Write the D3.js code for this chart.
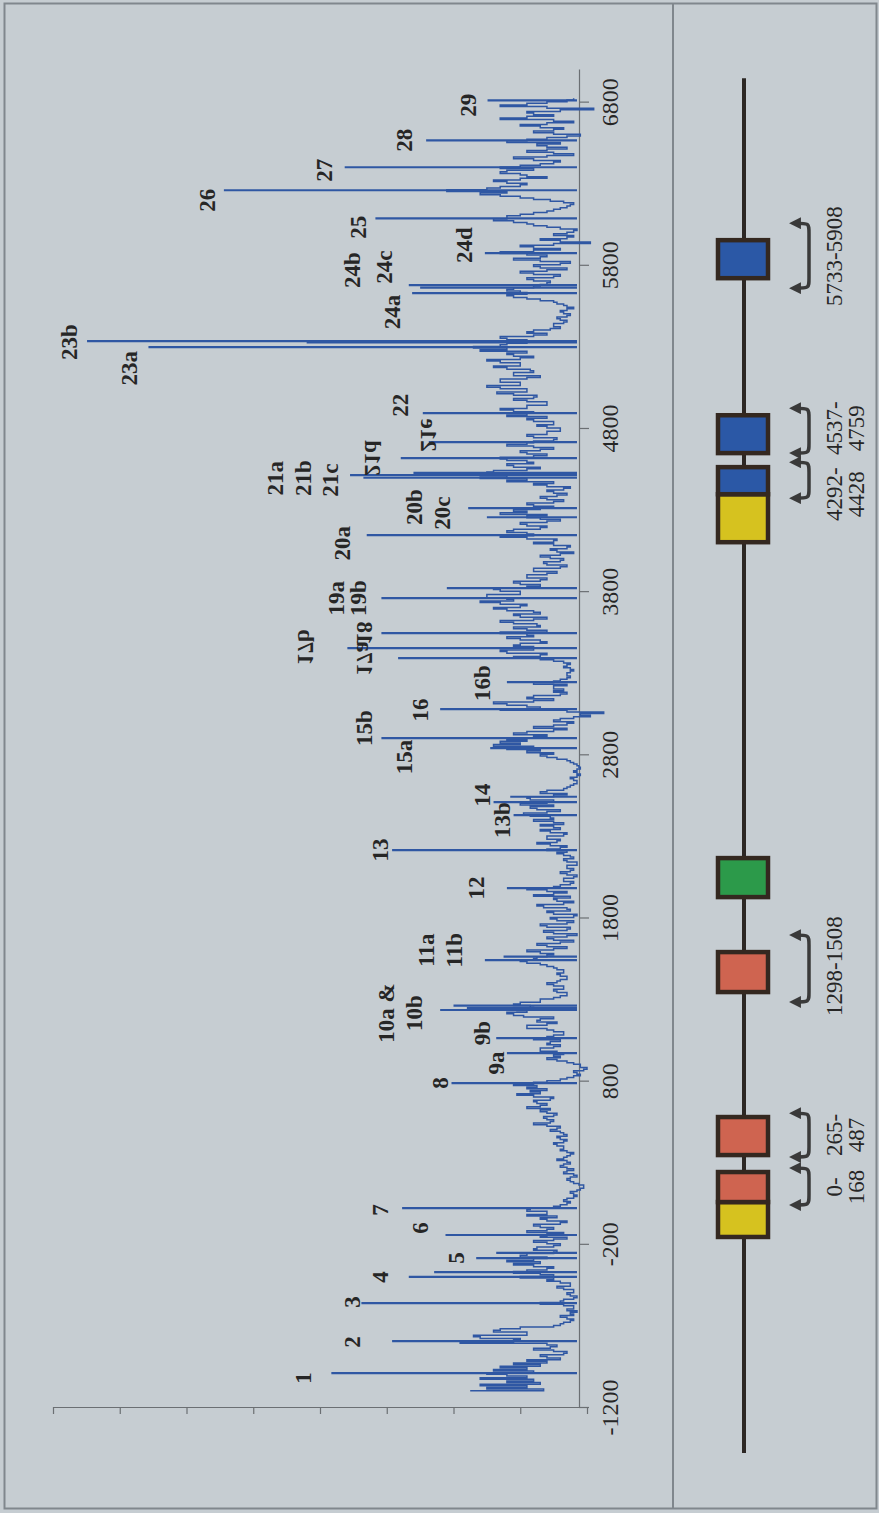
<!DOCTYPE html>
<html>
<head>
<meta charset="utf-8">
<script src="https://cdn.jsdelivr.net/npm/d3@7"></script>
<style>
  html, body { margin: 0; padding: 0; background: #c6cdd2; }
  svg { display: block; }
</style>
</head>
<body>
<svg id="chart" width="879" height="1513"></svg>
<script>
// ---------- data ----------
// position axis tick labels (bp)
const axisTicks = [-1200, -200, 800, 1800, 2800, 3800, 4800, 5800, 6800];

// background signal, one reading every 10 bp starting at -1100 (one row = 100 bp)
const traceStart = -1100;
const traceStep = 10;
const traceValues = [
  1.75, 0.65, 1.5, 0.9, 1.6, 0.7, 1.2, 0.8, 1.6, 0.9,        // -1100
  1.2, 1.5, 0.8, 1.4, 0.9, 1.3, 0.7, 1.1, 0.6, 0.9,          // -1000
  0.4, 0.6, 0.7, 0.35, 0.3, 0.5, 0.8, 0.55, 0.45, 0.6,       // -900
  1.9, 1.1, 1.0, 1.6, 1.7, 0.9, 0.9, 1.4, 1.3, 1.0,          // -800
  0.5, 0.4, 0.35, 0.25, 0.2, 0.3, 0.4, 0.2, 0.25, 0.15,      // -700
  0.3, 0.2, 0.2, 0.35, 0.7, 0.4, 0.35, 0.2, 0.15, 0.25,      // -600
  0.3, 0.2, 0.2, 0.35, 0.45, 0.25, 0.25, 0.4, 0.6, 0.5,      // -500
  1.0, 0.5, 0.7, 1.1, 0.9, 0.6, 0.5, 0.8, 1.1, 0.7,          // -400
  1.2, 0.8, 0.6, 1.0, 0.9, 0.5, 0.45, 0.8, 0.75, 0.5,        // -300
  0.4, 0.6, 0.8, 0.5, 0.3, 0.7, 0.6, 0.35, 0.9, 0.6,         // -200
  0.5, 0.7, 0.8, 0.4, 0.3, 0.6, 0.7, 0.45, 0.9, 0.6,         // -100
  0.6, 0.9, 0.85, 0.5, 0.4, 0.3, 0.25, 0.35, 0.3, 0.2,       // 0
  0.15, 0.2, 0.25, 0.15, 0.1, 0.05, 0.05, 0.12, 0.2, 0.25,   // 100
  0.3, 0.25, 0.15, 0.2, 0.35, 0.3, 0.2, 0.3, 0.4, 0.35,      // 200
  0.25, 0.3, 0.45, 0.35, 0.3, 0.25, 0.2, 0.3, 0.4, 0.35,     // 300
  0.35, 0.45, 0.5, 0.35, 0.3, 0.4, 0.45, 0.3, 0.35, 0.4,     // 400
  0.55, 0.45, 0.4, 0.6, 0.8, 0.55, 0.5, 0.6, 0.65, 0.5,      // 500
  0.45, 0.6, 0.7, 0.55, 0.9, 0.7, 0.6, 0.75, 0.8, 0.55,      // 600
  0.5, 0.8, 1.05, 0.7, 0.85, 0.6, 0.9, 0.75, 1.1, 0.8,       // 700
  0.6, 0.4, 0.3, 0.2, 0.1, 0.15, 0.2, 0.05, 0.0, 0.1,        // 800
  0.1, 0.2, 0.3, 0.45, 0.6, 0.4, 0.5, 0.35, 0.45, 0.7,       // 900
  0.7, 0.5, 0.4, 0.6, 0.55, 0.4, 0.8, 0.6, 0.5, 0.35,        // 1000
  0.35, 0.5, 0.6, 0.9, 0.9, 0.6, 0.45, 0.75, 0.7, 0.5,       // 1100
  0.95, 1.1, 1.2, 0.9, 1.05, 0.8, 0.85, 1.1, 1.0, 0.7,       // 1200
  0.7, 0.5, 0.4, 0.3, 0.3, 0.45, 0.5, 0.35, 0.35, 0.5,       // 1300
  0.6, 0.45, 0.4, 0.3, 0.3, 0.4, 0.45, 0.35, 0.35, 0.45,     // 1400
  0.5, 0.6, 0.7, 0.9, 1.0, 0.8, 0.75, 0.6, 0.5, 0.7,         // 1500
  0.9, 0.5, 0.3, 0.6, 0.75, 0.4, 0.2, 0.5, 0.6, 0.3,         // 1600
  0.15, 0.5, 0.65, 0.3, 0.25, 0.6, 0.7, 0.3, 0.2, 0.45,      // 1700
  0.55, 0.2, 0.15, 0.5, 0.6, 0.25, 0.3, 0.65, 0.75, 0.35,    // 1800
  0.2, 0.45, 0.5, 0.25, 0.8, 0.5, 0.3, 0.6, 0.9, 0.5,        // 1900
  0.4, 0.25, 0.2, 0.35, 0.35, 0.2, 0.15, 0.3, 0.4, 0.25,     // 2000
  0.2, 0.3, 0.3, 0.15, 0.15, 0.3, 0.35, 0.2, 0.25, 0.35,     // 2100
  0.45, 0.3, 0.6, 0.4, 0.3, 0.55, 0.75, 0.45, 0.4, 0.6,      // 2200
  0.6, 0.35, 0.3, 0.55, 0.7, 0.4, 0.5, 0.7, 0.35, 0.5,       // 2300
  0.8, 0.5, 0.55, 0.85, 0.95, 0.6, 0.4, 0.75, 0.85, 0.5,     // 2400
  1.0, 0.6, 0.5, 0.85, 0.9, 0.5, 0.3, 0.7, 0.6, 0.35,        // 2500
  0.3, 0.25, 0.2, 0.15, 0.15, 0.2, 0.25, 0.15, 0.1, 0.15,    // 2600
  0.2, 0.15, 0.1, 0.12, 0.15, 0.2, 0.25, 0.3, 0.45, 0.6,     // 2700
  0.7, 0.5, 0.9, 0.7, 1.2, 0.8, 1.4, 1.0, 1.3, 0.9,          // 2800
  1.2, 0.8, 0.6, 1.1, 0.9, 0.5, 0.3, 0.8, 0.5, 0.3,          // 2900
  0.2, 0.5, 0.4, 0.2, -0.05, 0.1, -0.25, 0.3, 1.3, 0.7,      // 3000
  0.9, 1.2, 1.4, 0.8, 0.5, 0.9, 0.8, 0.4, 0.3, 0.5,          // 3100
  0.35, 0.5, 0.5, 0.3, 0.8, 0.5, 0.4, 0.3, 0.25, 0.3,        // 3200
  0.3, 0.25, 0.2, 0.25, 0.35, 0.3, 0.25, 0.35, 0.5, 0.7,     // 3300
  1.1, 0.7, 0.6, 1.2, 1.3, 0.8, 0.8, 1.1, 1.0, 0.6,          // 3400
  0.7, 1.0, 1.2, 0.8, 0.9, 1.3, 0.6, 0.9, 1.1, 0.7,          // 3500
  0.75, 1.1, 1.3, 0.8, 0.6, 1.0, 1.1, 0.7, 0.8, 1.2,         // 3600
  1.4, 1.0, 0.9, 1.3, 1.6, 1.1, 1.2, 1.5, 1.5, 1.0,          // 3700
  1.0, 1.3, 1.4, 0.9, 0.7, 1.0, 1.1, 0.7, 0.6, 0.9,          // 3800
  0.9, 0.6, 0.45, 0.8, 0.8, 0.4, 0.3, 0.6, 0.65, 0.4,        // 3900
  0.35, 0.55, 0.7, 0.4, 0.2, 0.45, 0.55, 0.3, 0.25, 0.5,     // 4000
  0.8, 0.5, 0.45, 0.9, 1.3, 0.8, 0.9, 1.2, 1.1, 0.7,         // 4100
  0.6, 0.9, 1.0, 0.6, 0.4, 0.7, 0.9, 0.6, 1.3, 0.9,          // 4200
  1.1, 0.7, 0.5, 0.8, 0.9, 0.5, 0.35, 0.6, 0.7, 0.45,        // 4300
  0.3, 0.5, 0.6, 0.35, 0.25, 0.6, 0.8, 0.5, 1.2, 0.9,        // 4400
  1.6, 1.2, 1.1, 1.5, 1.4, 0.9, 0.7, 1.1, 1.2, 0.8,          // 4500
  0.9, 1.2, 1.3, 0.8, 0.6, 0.9, 1.0, 0.7, 0.5, 0.8,          // 4600
  1.2, 0.9, 0.8, 0.5, 0.45, 0.8, 0.9, 0.6, 0.6, 0.4,         // 4700
  0.4, 0.6, 0.75, 0.5, 0.5, 0.8, 0.9, 0.6, 1.2, 0.9,         // 4800
  0.8, 1.1, 1.3, 0.9, 0.9, 0.6, 0.6, 0.9, 1.1, 0.8,          // 4900
  0.75, 1.1, 1.35, 0.9, 0.9, 1.3, 1.5, 1.0, 1.0, 1.3,        // 5000
  1.3, 0.9, 0.7, 1.1, 1.1, 0.8, 0.85, 1.2, 1.4, 1.0,         // 5100
  1.0, 1.3, 1.5, 1.0, 0.8, 1.1, 1.2, 0.9, 1.6, 1.2,          // 5200
  1.7, 1.3, 1.2, 0.9, 0.9, 1.2, 1.3, 0.8, 0.6, 0.9,          // 5300
  0.8, 0.55, 0.4, 0.5, 0.5, 0.35, 0.3, 0.4, 0.45, 0.3,       // 5400
  0.25, 0.35, 0.4, 0.3, 0.2, 0.3, 0.35, 0.45, 0.5, 0.7,      // 5500
  0.9, 1.1, 1.2, 0.9, 1.0, 1.2, 1.1, 0.8, 0.7, 0.6,          // 5600
  0.55, 0.8, 0.9, 0.5, 0.4, 0.8, 1.0, 0.6, 0.3, 0.7,         // 5700
  0.8, 0.4, 0.25, 0.7, 1.1, 0.7, 0.6, 0.9, 1.3, 0.8,         // 5800
  0.4, 0.8, 1.0, 0.5, -0.05, 0.4, 0.7, 0.3, 0.2, 0.5,        // 5900
  0.3, 0.2, 0.15, 0.4, 0.6, 0.8, 0.9, 1.1, 1.4, 1.2,         // 6000
  1.2, 1.0, 0.8, 0.6, 0.5, 0.4, 0.3, 0.25, 0.2, 0.35,        // 6100
  0.55, 0.8, 1.0, 1.3, 1.6, 1.2, 2.1, 1.5, 1.3, 1.0,         // 6200
  0.9, 1.2, 1.4, 1.0, 0.6, 0.9, 1.0, 1.3, 1.2, 0.8,          // 6300
  1.3, 1.0, 0.7, 0.5, 0.4, 0.8, 1.1, 0.6, 0.2, 0.5,          // 6400
  0.9, 0.6, 0.3, 0.6, 0.75, 0.4, 1.2, 0.9, 0.6, 0.3,         // 6500
  0.1, 0.5, 0.8, 0.5, 0.35, 0.7, 1.0, 0.6, 0.2, 0.5,         // 6600
  1.3, 0.9, 0.5, 0.8, 0.9, 0.4, -0.1, 0.6, 1.3, 0.9,         // 6700
  0.6, 0.3, 0.2                                              // 6800
];

// narrow peaks: [position, height]
const peaks = [
  [-992, 3.83], [-796, 2.92], [-563, 3.38], [-403, 2.67], [-373, 2.29],
  [-287, 1.66], [-256, 1.36], [-146, 2.12], [19, 2.77], [785, 2.03],
  [969, 1.2], [1061, 1.36], [1233, 2.2], [1245, 1.8], [1260, 2.0],
  [1539, 1.53], [1560, 1.25], [1980, 1.2], [2213, 2.92], [2427, 1.1],
  [2507, 1.4], [2540, 1.15], [2838, 1.45], [2899, 3.08], [3077, 2.2],
  [3242, 1.2], [3389, 2.83], [3451, 3.59], [3543, 3.08], [3757, 3.08],
  [3818, 2.1], [4143, 3.3], [4253, 1.5], [4309, 1.78], [4495, 3.35],
  [4511, 3.55], [4525, 2.6], [4615, 2.79], [4713, 2.37], [4891, 2.46],
  [5295, 6.57], [5325, 4.2], [5332, 7.49], [5626, 2.62], [5660, 2.5],
  [5675, 2.67], [5871, 1.53], [6085, 3.17], [6257, 5.44], [6398, 3.63],
  [6563, 2.41], [6808, 1.49]
];

// peak names: [text, position, height at label centre, mirrored]
const peakLabels = [
  ["1", -1022, 4.25, false], ["2", -802, 3.51, false], ["3", -557, 3.51, false],
  ["4", -403, 3.09, false], ["5", -287, 1.95, false], ["6", -103, 2.5, false],
  ["7", 7, 3.09, false], ["8", 785, 2.2, false], ["9a", 908, 1.36, false],
  ["9b", 1092, 1.57, false], ["10a &", 1214, 3.0, false], ["10b", 1214, 2.59, false],
  ["11a", 1600, 2.41, false], ["11b", 1600, 1.99, false], ["12", 1980, 1.66, false],
  ["13", 2213, 3.09, false], ["13b", 2397, 1.27, false], ["14", 2550, 1.57, false],
  ["15a", 2783, 2.74, false], ["15b", 2961, 3.34, false], ["16", 3071, 2.5, false],
  ["16b", 3236, 1.57, false], ["17b", 3457, 4.22, true], ["17a", 3389, 3.34, true],
  ["18", 3543, 3.34, true], ["19a", 3757, 3.76, false], ["19b", 3757, 3.42, false],
  ["20a", 4094, 3.67, false], ["20b", 4315, 2.58, false], ["20c", 4278, 2.16, false],
  ["21a", 4492, 4.67, false], ["21b", 4492, 4.25, false], ["21c", 4480, 3.84, false],
  ["21d", 4615, 3.21, true], ["21e", 4756, 2.37, true], ["22", 4940, 2.79, false],
  ["23b", 5326, 7.75, false], ["23a", 5166, 6.86, false], ["24a", 5510, 2.92, false],
  ["24b", 5767, 3.51, false], ["24c", 5785, 3.04, false], ["24d", 5920, 1.83, false],
  ["25", 6030, 3.42, false], ["26", 6196, 5.69, false], ["27", 6380, 3.93, false],
  ["28", 6563, 2.74, false], ["29", 6778, 1.78, false]
];

// gene map: extent of the locus line and the exon blocks [from, to, colour]
const geneSpan = [-1482, 6943];
const exonBlocks = [
  [-158, 56, "#d6c21f"], [56, 240, "#cf6450"],
  [344, 577, "#cf6450"],
  [1343, 1588, "#cf6450"],
  [1925, 2164, "#2c9a4a"],
  [4100, 4394, "#d6c21f"], [4394, 4560, "#2b58a6"],
  [4646, 4878, "#2b58a6"],
  [5718, 5951, "#2b58a6"]
];

// bracketed regions: [from, to, label position, label lines]
const regions = [
  [38, 264, 148, ["0-", "168"]],
  [332, 601, 467, ["265-", "487"]],
  [1282, 1692, 1502, ["1298-1508"]],
  [4370, 4590, 4394, ["4292-", "4428"]],
  [4646, 4921, 4799, ["4537-", "4759"]],
  [5657, 6055, 5853, ["5733-5908"]]
];

// ---------- drawing ----------
const W = 879, H = 1513;
const svg = d3.select("#chart");
const serif = '"Liberation Serif", "Times New Roman", Times, serif';
const ink = "#262626";

svg.append("rect").attr("width", W).attr("height", H).attr("fill", "#c6cdd2");

// outer frame and panel divider
svg.append("rect")
  .attr("x", 4.5).attr("y", 3.5).attr("width", 872).attr("height", 1505)
  .attr("fill", "none").attr("stroke", "#80878d").attr("stroke-width", 2);
svg.append("line")
  .attr("x1", 673).attr("x2", 673).attr("y1", 3.5).attr("y2", 1508.5)
  .attr("stroke", "#80878d").attr("stroke-width", 2);

// scales: positions run up the page, signal grows to the left
const y = d3.scaleLinear().domain([-1200, 7000]).range([1407, 69]);
const x = d3.scaleLinear().domain([0, 8]).range([587, 53]);

// position axis
const gPos = svg.append("g")
  .attr("transform", "translate(579,0)")
  .call(d3.axisRight(y).tickValues(axisTicks).tickSize(10).tickSizeOuter(0)
    .tickFormat(d => String(d)));
gPos.select(".domain").attr("stroke", "#6b6f73").attr("stroke-width", 1.2);
gPos.selectAll(".tick line").attr("stroke", "#6b6f73").attr("stroke-width", 1.2);
gPos.selectAll(".tick text")
  .attr("x", null).attr("dy", null)
  .attr("transform", "translate(31,0) rotate(-90)")
  .attr("text-anchor", "middle")
  .attr("dominant-baseline", "central")
  .attr("fill", ink)
  .style("font-family", serif)
  .style("font-size", "24px");

// signal axis (ticks only)
const gSig = svg.append("g")
  .attr("transform", "translate(0,1407)")
  .call(d3.axisBottom(x).tickValues(d3.range(0, 9)).tickSize(7).tickSizeOuter(0)
    .tickFormat(""));
gSig.select(".domain").attr("stroke", "#6b6f73").attr("stroke-width", 1.2);
gSig.selectAll(".tick line").attr("stroke", "#6b6f73").attr("stroke-width", 1.2);

// signal trace
const trace = traceValues.map((v, i) => [traceStart + i * traceStep, v]);
const blue = "#2f57a3";
const line = d3.line()
  .x(d => x(d[1]))
  .y(d => y(d[0]))
  .curve(d3.curveStepAfter);
svg.append("path")
  .datum(trace)
  .attr("d", line)
  .attr("fill", "none")
  .attr("stroke", blue)
  .attr("stroke-width", 1.5)
  .attr("stroke-linejoin", "miter");

svg.append("g").selectAll("line")
  .data(peaks)
  .join("line")
  .attr("x1", x(0.15)).attr("x2", d => x(d[1]))
  .attr("y1", d => y(d[0])).attr("y2", d => y(d[0]))
  .attr("stroke", blue)
  .attr("stroke-width", 2.2);

// peak names
svg.append("g").selectAll("text")
  .data(peakLabels)
  .join("text")
  .attr("transform", d => `translate(${x(d[2])},${y(d[1])}) rotate(-90)` + (d[3] ? " scale(1,-1)" : ""))
  .attr("text-anchor", "middle")
  .attr("dominant-baseline", "central")
  .attr("fill", ink)
  .style("font-family", serif)
  .style("font-weight", "bold")
  .style("font-size", "23px")
  .text(d => d[0]);

// ---------- gene map ----------
const geneX = 744;
svg.append("line")
  .attr("x1", geneX).attr("x2", geneX)
  .attr("y1", y(geneSpan[0])).attr("y2", y(geneSpan[1]))
  .attr("stroke", "#2c2724").attr("stroke-width", 4);

svg.append("g").selectAll("rect")
  .data(exonBlocks)
  .join("rect")
  .attr("x", 718).attr("width", 50)
  .attr("y", d => y(d[1]))
  .attr("height", d => y(d[0]) - y(d[1]))
  .attr("fill", d => d[2])
  .attr("stroke", "#342820")
  .attr("stroke-width", 4.5);

// arrowhead
svg.append("defs").append("marker")
  .attr("id", "head")
  .attr("viewBox", "0 0 10 10")
  .attr("refX", 5).attr("refY", 5)
  .attr("markerWidth", 3.4).attr("markerHeight", 3.4)
  .attr("orient", "auto-start-reverse")
  .append("path")
  .attr("d", "M0,0 L10,5 L0,10 Z")
  .attr("fill", "#3a3a3a");

const bx0 = 795, bx1 = 809;
const rg = svg.append("g");
rg.selectAll("path")
  .data(regions)
  .join("path")
  .attr("d", d => {
    const t = y(d[1]), b = y(d[0]);
    return `M${bx0},${t} C${bx1},${t} ${bx1},${t} ${bx1},${t + 10} L${bx1},${b - 10} C${bx1},${b} ${bx1},${b} ${bx0},${b}`;
  })
  .attr("fill", "none")
  .attr("stroke", "#3a3a3a")
  .attr("stroke-width", 3.5)
  .attr("marker-start", "url(#head)")
  .attr("marker-end", "url(#head)");

regions.forEach(r => {
  r[3].forEach((txt, i) => {
    svg.append("text")
      .attr("transform", `translate(${834 + i * 22},${y(r[2])}) rotate(-90)`)
      .attr("text-anchor", "middle")
      .attr("dominant-baseline", "central")
      .attr("fill", ink)
      .style("font-family", serif)
      .style("font-size", "23px")
      .text(txt);
  });
});
</script>
</body>
</html>
